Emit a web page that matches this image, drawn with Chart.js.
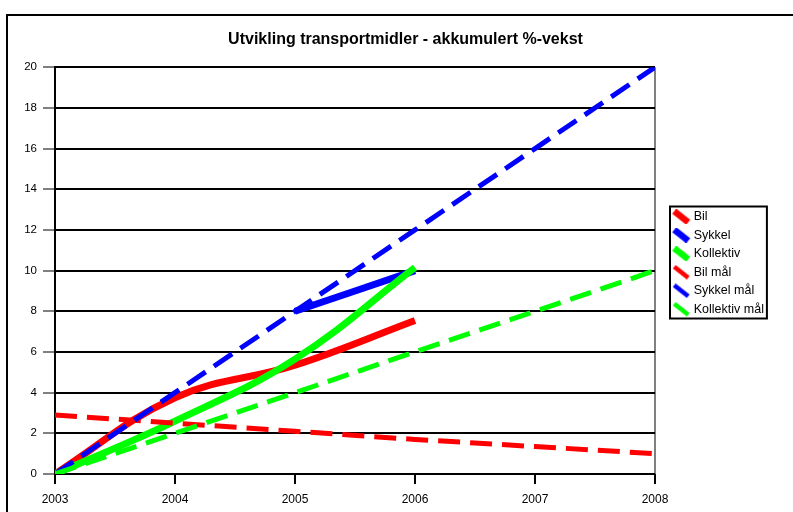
<!DOCTYPE html>
<html>
<head>
<meta charset="utf-8">
<script src="https://cdn.jsdelivr.net/npm/chart.js@4"></script>
<style>
  html, body { margin: 0; padding: 0; background: #fff; overflow: hidden; }
  #wrap { position: relative; width: 793px; height: 512px; }
  #frame { position: absolute; left: 6px; top: 14px; width: 900px; height: 600px; border: 2px solid #000; }
  #chart { position: absolute; left: 0; top: 0; }
</style>
</head>
<body>
<div id="wrap">
  <div id="frame"></div>
  <canvas id="chart" width="793" height="512"></canvas>
</div>
<script>
const years = [2003, 2004, 2005, 2006, 2007, 2008];
const seriesNames = ['Bil', 'Sykkel', 'Kollektiv', 'Bil mål', 'Sykkel mål', 'Kollektiv mål'];

const bil = [0, 3.75, 5.35, 7.55];
const sykkel = [null, null, 8.0, 10.0];
const kollektiv = [0, 2.6, 5.65, 10.15];
const bilMaal = [2.9, 2.5, 2.1, 1.7, 1.35, 1.0];
const sykkelMaal = [0, 4, 8, 12, 16, 20];
const kollektivMaal = [0, 2, 4, 6, 8, 10];

const colors = ['#ff0000', '#0000ff', '#00ff00', '#ff0000', '#0000ff', '#00ff00'];
const tensions = [0.4, 0.4, 0.4, 0, 0, 0];

const toPoints = (vals) => vals.map((v, i) => ({ x: years[i], y: v }));

// little diagonal stroke used as legend marker
const legendIcon = (color, w) => {
    const c = document.createElement('canvas');
    c.width = 20; c.height = 15;
    const g = c.getContext('2d');
    g.strokeStyle = color;
    g.lineWidth = w;
    g.beginPath();
    g.moveTo(3, 2);
    g.lineTo(17, 13);
    g.stroke();
    return c;
};

const allValues = [bil, sykkel, kollektiv, bilMaal, sykkelMaal, kollektivMaal];

const datasets = allValues.map((vals, i) => {
    const isTarget = i >= 3;
    return {
        label: seriesNames[i],
        data: toPoints(vals),
        borderColor: colors[i],
        backgroundColor: colors[i],
        borderWidth: isTarget ? 5 : 7,
        borderDash: isTarget ? [22, 10] : [],
        borderCapStyle: 'butt',
        tension: tensions[i],
        pointRadius: 0,
        pointStyle: legendIcon(colors[i], isTarget ? 4.5 : 6.5),
        fill: false,
        order: 6 - i
    };
});

// legend sits in a fixed 138px column right of the plot, nudged like the original
const legendPlacement = {
    id: 'legendPlacement',
    afterInit(chart) {
        const legend = chart.legend;
        const origFit = legend.fit.bind(legend);
        legend.fit = function () {
            origFit();
            this.width = 138;
        };
    },
    afterLayout(chart) {
        const l = chart.legend;
        l.left += 14; l.right += 14;
        l.top += 7; l.bottom += 7;
    },
    afterDraw(chart) {
        const boxes = chart.legend.legendHitBoxes;
        if (!boxes || !boxes.length) return;
        const top = Math.min(...boxes.map(b => b.top));
        const bottom = Math.max(...boxes.map(b => b.top + b.height));
        const left = Math.min(...boxes.map(b => b.left));
        const right = Math.max(...boxes.map(b => b.left + b.width));
        const ctx = chart.ctx;
        ctx.save();
        ctx.strokeStyle = '#000';
        ctx.lineWidth = 2;
        ctx.strokeRect(left - 5, top - 4, right - left + 8, bottom - top + 7);
        ctx.restore();
    }
};

Chart.defaults.font.family = 'Arial, "Liberation Sans", sans-serif';
Chart.defaults.color = '#000';

new Chart(document.getElementById('chart').getContext('2d'), {
    type: 'line',
    data: { datasets: datasets },
    options: {
        responsive: false,
        animation: false,
        layout: { padding: { left: 18, right: 0, top: 0, bottom: 0 } },
        plugins: {
            title: {
                display: true,
                text: 'Utvikling transportmidler - akkumulert %-vekst',
                font: { size: 16, weight: 'bold' },
                padding: { top: 30, bottom: 18 }
            },
            legend: {
                position: 'right',
                labels: {
                    usePointStyle: true,
                    font: { size: 12.5 },
                    padding: 6,
                    sort: (a, b) => a.datasetIndex - b.datasetIndex
                }
            },
            tooltip: { enabled: false }
        },
        scales: {
            x: {
                type: 'linear',
                min: 2003,
                max: 2008,
                afterFit: (s) => { s.height = 38; },
                ticks: {
                    stepSize: 1,
                    font: { size: 12 },
                    padding: 8,
                    callback: (v) => String(v)
                },
                grid: {
                    drawOnChartArea: true,
                    color: (ctx) => (ctx.tick && ctx.tick.value === 2008) ? '#808080' : 'rgba(0,0,0,0)',
                    lineWidth: 2,
                    tickColor: '#000',
                    tickLength: 10
                },
                border: { display: false }
            },
            y: {
                min: 0,
                max: 20,
                afterFit: (s) => { s.width = 37; },
                ticks: {
                    stepSize: 2,
                    font: { size: 11.5 },
                    padding: 6
                },
                grid: {
                    color: '#000',
                    lineWidth: 2,
                    tickColor: '#808080',
                    tickLength: 12
                },
                border: { display: true, color: '#000', width: 2 }
            }
        }
    },
    plugins: [legendPlacement]
});
</script>
</body>
</html>
